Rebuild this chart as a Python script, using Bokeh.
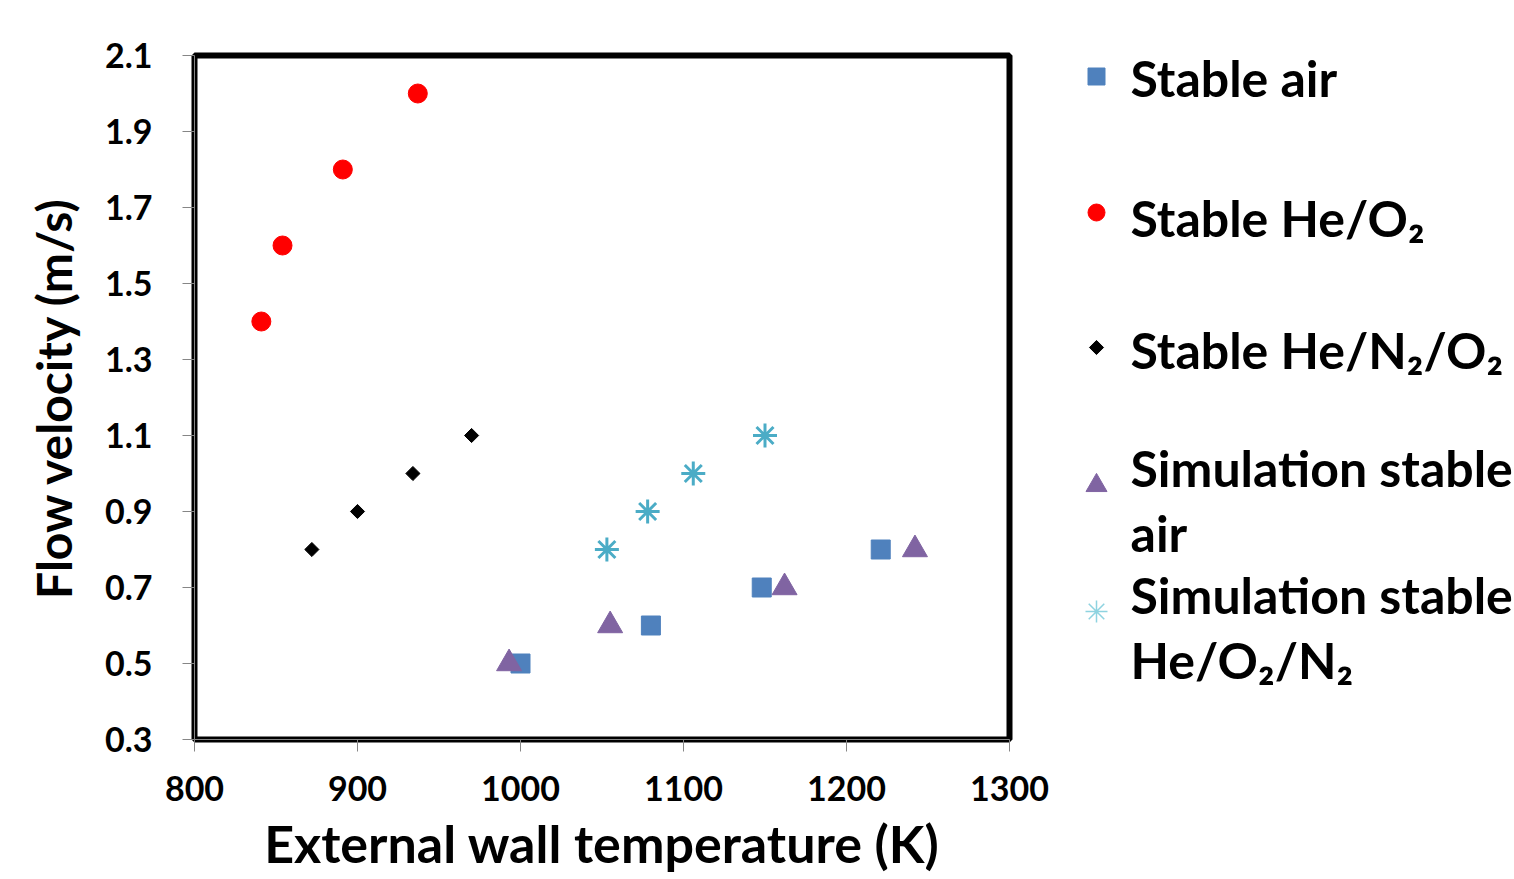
from bokeh.plotting import figure
from bokeh.layouts import row
from bokeh.models import Range1d, FixedTicker
from bokeh.core.properties import value
from bokeh.embed import file_html
from bokeh.resources import INLINE

# ---- data ----
air_T = [1000, 1080, 1148, 1221]
air_v = [0.5, 0.6, 0.7, 0.8]
heo2_T = [841, 854, 891, 937]
heo2_v = [1.4, 1.6, 1.8, 2.0]
hen2o2_T = [872, 900, 934, 970]
hen2o2_v = [0.8, 0.9, 1.0, 1.1]
sim_air_T = [993, 1055, 1162, 1242]
sim_air_v = [0.5, 0.6, 0.7, 0.8]
sim_heo2n2_T = [1053, 1078, 1106, 1150]
sim_heo2n2_v = [0.8, 0.9, 1.0, 1.1]

x_ticks = [800, 900, 1000, 1100, 1200, 1300]
y_ticks = [0.3, 0.5, 0.7, 0.9, 1.1, 1.3, 1.5, 1.7, 1.9, 2.1]
y_tick_labels = ["0.3", "0.5", "0.7", "0.9", "1.1", "1.3", "1.5", "1.7", "1.9", "2.1"]

legend_labels = ["Stable air", "Stable He/O\u2082", "Stable  He/N\u2082/O\u2082",
                 "Simulation stable", "air", "Simulation stable", "He/O\u2082/N\u2082"]

FONT = value("Lato")

H = 879
TOP = 55
BOTTOM = 739

# ---- main plot ----
p = figure(width=1050, height=H, output_backend="svg", toolbar_location=None,
           x_range=Range1d(800, 1300), y_range=Range1d(0.3, 2.1),
           min_border_left=194, min_border_right=41, min_border_top=TOP,
           min_border_bottom=H - BOTTOM)
p.xgrid.visible = False
p.ygrid.visible = False
p.outline_line_color = "black"
p.outline_line_width = 6

p.xaxis.ticker = FixedTicker(ticks=x_ticks)
p.yaxis.ticker = FixedTicker(ticks=y_ticks)
p.yaxis.major_label_overrides = {t: l for t, l in zip(y_ticks, y_tick_labels)}
p.xaxis.axis_label = "External wall temperature (K)"
p.yaxis.axis_label = "Flow velocity (m/s)"
for ax in (p.xaxis, p.yaxis):
    ax.axis_line_color = "#868686"
    ax.axis_line_width = 1
    ax.major_tick_line_color = "#868686"
    ax.major_tick_out = 12
    ax.major_tick_in = 0
    ax.minor_tick_line_color = None
    ax.major_label_text_font = "Lato"
    ax.major_label_text_font_style = "bold"
    ax.major_label_text_font_size = "34px"
    ax.major_label_text_color = "black"
    ax.axis_label_text_font = "Lato"
    ax.axis_label_text_font_style = "bold"
    ax.axis_label_text_color = "black"
p.xaxis.axis_label_text_font_size = "52px"
p.yaxis.axis_label_text_font_size = "48px"
p.xaxis.major_label_standoff = 24
p.yaxis.major_label_standoff = 30
p.xaxis.axis_label_standoff = 8
p.yaxis.axis_label_standoff = 20

p.scatter(heo2_T, heo2_v, marker="circle", size=19, color="#FF0000")
p.scatter(hen2o2_T, hen2o2_v, marker="square", angle=0.785398, size=10, color="black")
p.scatter(air_T, air_v, marker="square", size=19, color="#4F81BD")
p.scatter(sim_air_T, sim_air_v, marker="triangle", size=25, color="#8064A2")
p.scatter(sim_heo2n2_T, sim_heo2n2_v, marker="asterisk", size=24, line_color="#4BACC6", line_width=3)

# ---- legend panel (frame aligned with the main frame; y in page pixels) ----
lg = figure(width=464, height=H, output_backend="svg", toolbar_location=None,
            x_range=Range1d(0, 464), y_range=Range1d(BOTTOM, TOP),
            min_border_left=0, min_border_right=0, min_border_top=TOP,
            min_border_bottom=H - BOTTOM)
lg.axis.visible = False
lg.xgrid.visible = False
lg.ygrid.visible = False
lg.outline_line_color = None

text_x = [80] * len(legend_labels)
text_y = [77, 217, 349, 467, 532, 594, 659]
lg.text(text_x, text_y, text=legend_labels, text_font=FONT, text_font_style="bold",
        text_font_size="50px", text_baseline="alphabetic", text_align="left", text_color="black")

mx = 46
lg.scatter([mx], [76], marker="square", size=17, color="#4F81BD")
lg.scatter([mx], [212], marker="circle", size=17, color="#FF0000")
lg.scatter([mx], [347], marker="square", angle=0.785398, size=10, color="black")
lg.scatter([mx], [485], marker="triangle", size=21, color="#8064A2")
lg.scatter([mx], [611], marker="asterisk", size=22, line_color="#8ED3E0", line_width=1.5)

layout = row(p, lg)
open("out.html", "w").write(file_html(layout, INLINE))
